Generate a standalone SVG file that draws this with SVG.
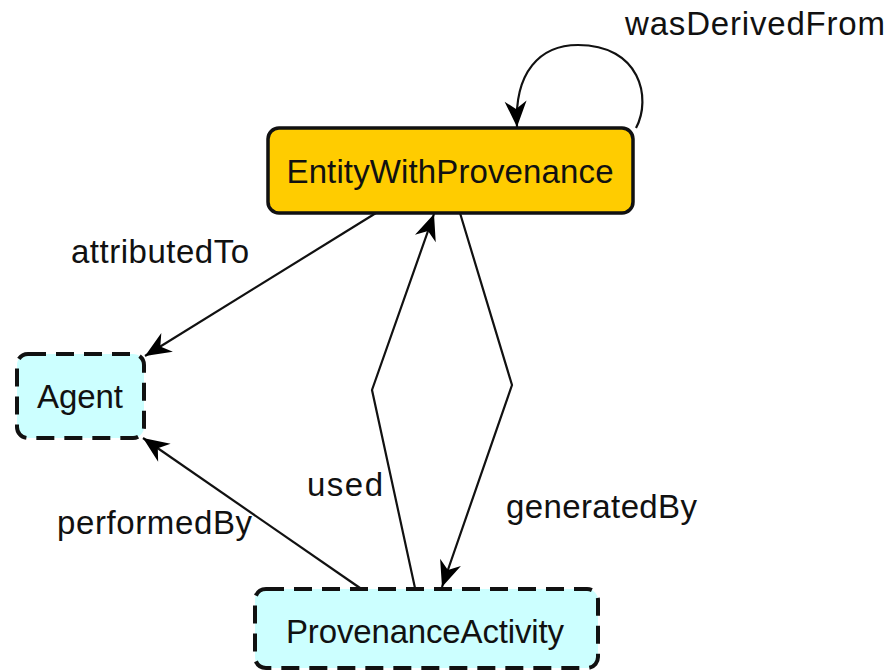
<svg xmlns="http://www.w3.org/2000/svg" width="889" height="672" viewBox="0 0 889 672">
<defs>
<marker id="arr" markerUnits="userSpaceOnUse" markerWidth="32" markerHeight="32" viewBox="-28 -14 32 28" refX="0" refY="0" orient="auto">
<path d="M0,0 L-26,-11 L-18,0 L-26,11 Z" fill="#000"/>
</marker>
</defs>
<style>
.lbl{font-family:"Liberation Sans",Arial,sans-serif;font-size:33px;fill:#111;}
.node{font-family:"Liberation Sans",Arial,sans-serif;font-size:33px;fill:#111;text-anchor:middle;}
.edge{fill:none;stroke:#111;stroke-width:2.2;marker-end:url(#arr);}
.dash{fill:#CCFFFF;stroke:#111;stroke-width:4;stroke-dasharray:18 10;}
</style>
<rect width="889" height="672" fill="#fff"/>
<g id="connectors">
<path class="edge" d="M636,128 C652,98 640,45 578,45 C540,45 514,72 517,127"/>
<path class="edge" d="M376,213 L145,356"/>
<path class="edge" d="M360,588 L143,438"/>
<path class="edge" d="M415,588 L372,390 L434,214"/>
<path class="edge" d="M460,213 L512,385 L442,587"/>
</g>
<g id="labels">
<text class="lbl" x="625" y="35" textLength="260">wasDerivedFrom</text>
<text class="lbl" x="71" y="263" textLength="178">attributedTo</text>
<text class="lbl" x="57" y="534" textLength="195">performedBy</text>
<text class="lbl" x="307" y="496" textLength="76">used</text>
<text class="lbl" x="506" y="518" textLength="191">generatedBy</text>
</g>
<g id="EntityWithProvenance">
<rect x="268" y="128" width="365" height="85" rx="11" fill="#FFCC00" stroke="#111" stroke-width="3.5"/>
<text class="node" x="450" y="183" textLength="327">EntityWithProvenance</text>
</g>
<g id="Agent">
<rect class="dash" x="17" y="354" width="127" height="84" rx="11"/>
<text class="node" x="80" y="408" textLength="86">Agent</text>
</g>
<g id="ProvenanceActivity">
<rect class="dash" x="255" y="589" width="343" height="79" rx="11"/>
<text class="node" x="425" y="643" textLength="278">ProvenanceActivity</text>
</g>
</svg>
